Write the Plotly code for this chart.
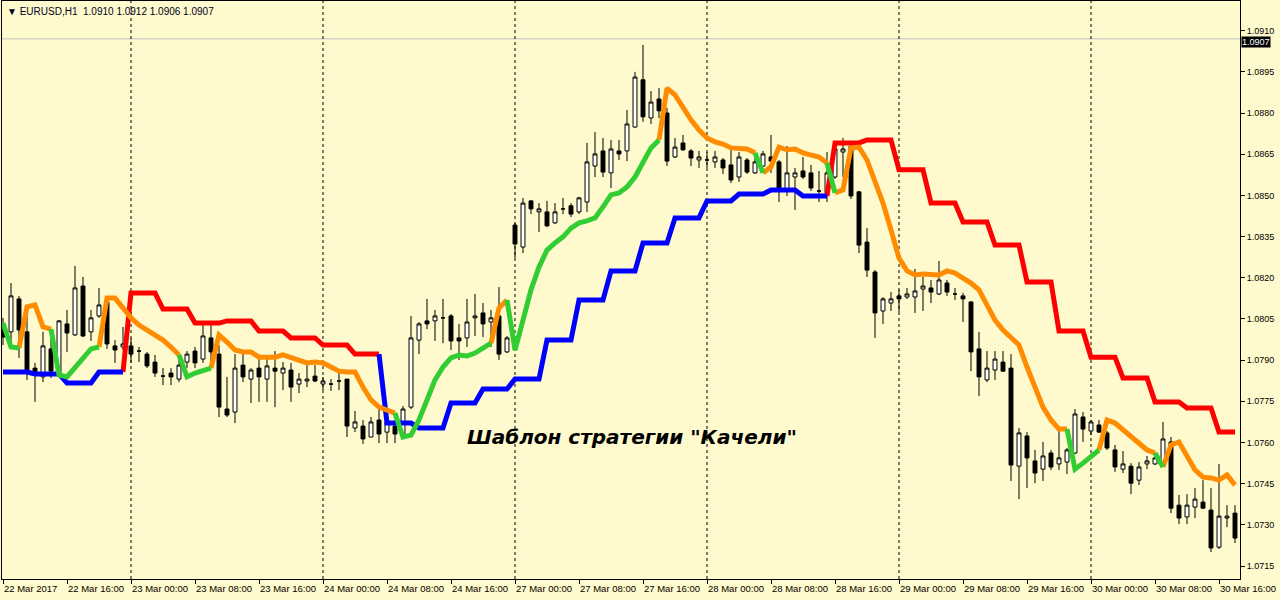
import pandas as pd
import plotly.graph_objects as go

# ---------------- data ----------------
bar_times = list(pd.date_range("2017-03-22 08:00", "2017-03-24 23:00", freq="h")) + \
            list(pd.date_range("2017-03-27 00:00", "2017-03-30 18:00", freq="h"))

open_ = [
    1.08017, 1.08003, 1.08123, 1.08003, 1.07871, 1.07839, 1.07941, 1.07853,
    1.08032, 1.07992, 1.08170, 1.08003, 1.08061, 1.08112, 1.07952, 1.07948,
    1.07952, 1.07933, 1.07922, 1.07893, 1.07842, 1.07853, 1.07831, 1.07893,
    1.07933, 1.07904, 1.07981, 1.07922, 1.07722, 1.07711, 1.07882, 1.07831,
    1.07871, 1.07831, 1.07871, 1.07853, 1.07864, 1.07813, 1.07824, 1.07842,
    1.07813, 1.07813, 1.07824, 1.07831, 1.07653, 1.07660, 1.07620, 1.07682,
    1.07638, 1.07660, 1.07624, 1.07729, 1.07973, 1.08043, 1.08043, 1.08054,
    1.08061, 1.07981, 1.07981, 1.08054, 1.08072, 1.08039, 1.08061, 1.07930,
    1.08392, 1.08312, 1.08480, 1.08440, 1.08440, 1.08400, 1.08451, 1.08462,
    1.08440, 1.08476, 1.08607, 1.08662, 1.08582, 1.08662, 1.08662, 1.08749,
    1.08921, 1.08782, 1.08851, 1.08800, 1.08640, 1.08691, 1.08662, 1.08629,
    1.08629, 1.08622, 1.08629, 1.08611, 1.08567, 1.08629, 1.08582, 1.08607,
    1.08640, 1.08622, 1.08516, 1.08567, 1.08589, 1.08582, 1.08516, 1.08509,
    1.08567, 1.08658, 1.08680, 1.08513, 1.08330, 1.08221, 1.08079, 1.08108,
    1.08134, 1.08130, 1.08130, 1.08159, 1.08163, 1.08141, 1.08181, 1.08141,
    1.08134, 1.08112, 1.07941, 1.07828, 1.07864, 1.07893, 1.07871, 1.07514,
    1.07624, 1.07533, 1.07503, 1.07562, 1.07522, 1.07529, 1.07562, 1.07693,
    1.07642, 1.07664, 1.07635, 1.07573, 1.07503, 1.07514, 1.07463, 1.07522,
    1.07522, 1.07529, 1.07602, 1.07372, 1.07329, 1.07365, 1.07383, 1.07354,
    1.07219, 1.07325, 1.07343,
]
high_ = [
    1.08054, 1.08181, 1.08134, 1.08101, 1.07890, 1.08003, 1.07981, 1.08046,
    1.08083, 1.08243, 1.08203, 1.08083, 1.08163, 1.08130, 1.07973, 1.08021,
    1.07981, 1.07948, 1.07930, 1.07919, 1.07871, 1.07871, 1.07911, 1.07933,
    1.07948, 1.08032, 1.08032, 1.07955, 1.07839, 1.07922, 1.07937, 1.07871,
    1.07904, 1.07911, 1.07933, 1.07893, 1.07890, 1.07853, 1.07893, 1.07882,
    1.07839, 1.07831, 1.07853, 1.07831, 1.07715, 1.07682, 1.07693, 1.07726,
    1.07718, 1.07682, 1.07733, 1.08061, 1.08039, 1.08123, 1.08083, 1.08123,
    1.08068, 1.08032, 1.08123, 1.08141, 1.08108, 1.08083, 1.08166, 1.07988,
    1.08400, 1.08491, 1.08483, 1.08472, 1.08480, 1.08472, 1.08491, 1.08472,
    1.08495, 1.08691, 1.08731, 1.08709, 1.08702, 1.08702, 1.08811, 1.08950,
    1.09048, 1.08880, 1.08891, 1.08819, 1.08709, 1.08720, 1.08669, 1.08662,
    1.08658, 1.08662, 1.08636, 1.08680, 1.08658, 1.08636, 1.08640, 1.08662,
    1.08720, 1.08629, 1.08680, 1.08600, 1.08640, 1.08611, 1.08589, 1.08658,
    1.08695, 1.08709, 1.08684, 1.08516, 1.08381, 1.08228, 1.08130, 1.08148,
    1.08156, 1.08163, 1.08232, 1.08203, 1.08192, 1.08261, 1.08192, 1.08163,
    1.08145, 1.08115, 1.08003, 1.07933, 1.07933, 1.07933, 1.07922, 1.07653,
    1.07638, 1.07573, 1.07602, 1.07573, 1.07649, 1.07580, 1.07722, 1.07711,
    1.07682, 1.07682, 1.07642, 1.07591, 1.07569, 1.07525, 1.07529, 1.07551,
    1.07562, 1.07675, 1.07620, 1.07409, 1.07412, 1.07434, 1.07463, 1.07434,
    1.07522, 1.07372, 1.07372,
]
low_ = [
    1.07955, 1.07948, 1.07908, 1.07828, 1.07748, 1.07820, 1.07835, 1.07839,
    1.07930, 1.07988, 1.07984, 1.07970, 1.08054, 1.07941, 1.07890, 1.07937,
    1.07890, 1.07893, 1.07871, 1.07839, 1.07809, 1.07809, 1.07820, 1.07871,
    1.07871, 1.07890, 1.07890, 1.07693, 1.07693, 1.07671, 1.07820, 1.07744,
    1.07748, 1.07748, 1.07729, 1.07791, 1.07748, 1.07780, 1.07802, 1.07820,
    1.07791, 1.07788, 1.07791, 1.07620, 1.07638, 1.07595, 1.07620, 1.07598,
    1.07598, 1.07598, 1.07620, 1.07722, 1.07922, 1.08013, 1.07970, 1.07962,
    1.07937, 1.07901, 1.07948, 1.07988, 1.07984, 1.07948, 1.07901, 1.07926,
    1.08272, 1.08290, 1.08432, 1.08367, 1.08385, 1.08396, 1.08432, 1.08421,
    1.08432, 1.08440, 1.08567, 1.08567, 1.08527, 1.08629, 1.08625, 1.08746,
    1.08768, 1.08760, 1.08782, 1.08607, 1.08636, 1.08662, 1.08607, 1.08600,
    1.08600, 1.08600, 1.08578, 1.08545, 1.08549, 1.08578, 1.08578, 1.08604,
    1.08582, 1.08476, 1.08498, 1.08447, 1.08560, 1.08516, 1.08476, 1.08476,
    1.08560, 1.08567, 1.08487, 1.08290, 1.08203, 1.07981, 1.08032, 1.08079,
    1.08075, 1.08123, 1.08072, 1.08079, 1.08108, 1.08137, 1.08134, 1.08119,
    1.08039, 1.07860, 1.07769, 1.07820, 1.07828, 1.07857, 1.07460, 1.07394,
    1.07434, 1.07452, 1.07460, 1.07500, 1.07500, 1.07485, 1.07558, 1.07602,
    1.07627, 1.07635, 1.07573, 1.07493, 1.07489, 1.07412, 1.07445, 1.07503,
    1.07518, 1.07511, 1.07343, 1.07303, 1.07303, 1.07325, 1.07358, 1.07201,
    1.07212, 1.07292, 1.07234,
]
close_ = [
    1.07984, 1.08134, 1.08010, 1.07860, 1.07853, 1.07952, 1.07860, 1.08043,
    1.07999, 1.08163, 1.07988, 1.08054, 1.08101, 1.07959, 1.07937, 1.07959,
    1.07922, 1.07933, 1.07879, 1.07853, 1.07842, 1.07839, 1.07882, 1.07922,
    1.07890, 1.07988, 1.07930, 1.07729, 1.07700, 1.07871, 1.07839, 1.07864,
    1.07839, 1.07879, 1.07860, 1.07871, 1.07802, 1.07831, 1.07831, 1.07824,
    1.07824, 1.07813, 1.07824, 1.07660, 1.07675, 1.07613, 1.07675, 1.07631,
    1.07675, 1.07631, 1.07722, 1.07981, 1.08032, 1.08032, 1.08061, 1.08054,
    1.07970, 1.07970, 1.08039, 1.08061, 1.08032, 1.08054, 1.07922, 1.07981,
    1.08323, 1.08472, 1.08451, 1.08451, 1.08389, 1.08440, 1.08451, 1.08432,
    1.08491, 1.08622, 1.08651, 1.08585, 1.08669, 1.08651, 1.08760, 1.08931,
    1.08786, 1.08840, 1.08808, 1.08625, 1.08676, 1.08666, 1.08636, 1.08640,
    1.08629, 1.08640, 1.08600, 1.08556, 1.08640, 1.08585, 1.08622, 1.08651,
    1.08625, 1.08527, 1.08582, 1.08582, 1.08567, 1.08527, 1.08516, 1.08582,
    1.08669, 1.08669, 1.08498, 1.08319, 1.08228, 1.08072, 1.08123, 1.08123,
    1.08123, 1.08141, 1.08152, 1.08170, 1.08148, 1.08192, 1.08148, 1.08141,
    1.08123, 1.07930, 1.07839, 1.07871, 1.07904, 1.07860, 1.07518, 1.07635,
    1.07544, 1.07489, 1.07551, 1.07511, 1.07544, 1.07573, 1.07704, 1.07649,
    1.07675, 1.07638, 1.07580, 1.07511, 1.07522, 1.07452, 1.07511, 1.07533,
    1.07544, 1.07613, 1.07361, 1.07325, 1.07372, 1.07394, 1.07361, 1.07216,
    1.07332, 1.07332, 1.07252,
]

# middle swing line (green = up phase, orange = down phase)
swing_mid = [
    1.08035, 1.07948, 1.07944, 1.08094, 1.08101, 1.08021, 1.08013, 1.07846,
    1.07839, 1.07875, 1.07911, 1.07941, 1.07948, 1.08126, 1.08126, 1.08090,
    1.08054, 1.08028, 1.08010, 1.07988, 1.07973, 1.07948, 1.07919, 1.07839,
    1.07853, 1.07860, 1.07871, 1.07992, 1.07966, 1.07937, 1.07930, 1.07930,
    1.07911, 1.07911, 1.07911, 1.07919, 1.07908, 1.07901, 1.07890, 1.07893,
    1.07890, 1.07875, 1.07860, 1.07857, 1.07857, 1.07802, 1.07755, 1.07729,
    1.07718, 1.07707, 1.07620, 1.07627, 1.07682, 1.07755, 1.07828, 1.07875,
    1.07908, 1.07919, 1.07915, 1.07926, 1.07944, 1.07962, 1.08090, 1.08119,
    1.07937, 1.08046, 1.08156, 1.08239, 1.08301, 1.08327, 1.08349, 1.08381,
    1.08400, 1.08407, 1.08418, 1.08458, 1.08502, 1.08509, 1.08531, 1.08567,
    1.08622, 1.08673, 1.08702, 1.08891, 1.08866, 1.08819, 1.08775, 1.08738,
    1.08709, 1.08695, 1.08687, 1.08673, 1.08673, 1.08669, 1.08655, 1.08582,
    1.08604, 1.08676, 1.08666, 1.08669, 1.08655, 1.08647, 1.08640, 1.08618,
    1.08509, 1.08520, 1.08673, 1.08676, 1.08629, 1.08556, 1.08472, 1.08374,
    1.08272, 1.08225, 1.08210, 1.08214, 1.08210, 1.08210, 1.08225, 1.08217,
    1.08199, 1.08181, 1.08156, 1.08101, 1.08046, 1.08010, 1.07984, 1.07955,
    1.07875, 1.07799, 1.07729, 1.07682, 1.07649, 1.07649, 1.07503, 1.07525,
    1.07547, 1.07573, 1.07682, 1.07671, 1.07646, 1.07620, 1.07598, 1.07573,
    1.07562, 1.07511, 1.07591, 1.07602, 1.07547, 1.07500, 1.07474, 1.07471,
    1.07463, 1.07482, 1.07445,
]
swing_mid_up_runs = [(0, 2), (7, 12), (23, 26), (50, 61), (64, 82), (95, 95),
                     (104, 104), (134, 137), (145, 145)]

# outer swing level (blue = support below price, red = resistance above price)
swing_band = [
    1.07857, 1.07857, 1.07857, 1.07857, 1.07850, 1.07850, 1.07850, 1.07850,
    1.07817, 1.07817, 1.07817, 1.07817, 1.07857, 1.07857, 1.07857, 1.07857,
    1.08145, 1.08145, 1.08145, 1.08145, 1.08086, 1.08086, 1.08086, 1.08086,
    1.08035, 1.08035, 1.08035, 1.08035, 1.08043, 1.08043, 1.08043, 1.08043,
    1.08006, 1.08006, 1.08006, 1.08006, 1.07981, 1.07981, 1.07981, 1.07981,
    1.07955, 1.07955, 1.07955, 1.07955, 1.07922, 1.07922, 1.07922, 1.07922,
    1.07671, 1.07671, 1.07671, 1.07671, 1.07653, 1.07653, 1.07653, 1.07653,
    1.07744, 1.07744, 1.07744, 1.07744, 1.07795, 1.07795, 1.07795, 1.07795,
    1.07831, 1.07831, 1.07831, 1.07831, 1.07973, 1.07973, 1.07973, 1.07973,
    1.08119, 1.08119, 1.08119, 1.08119, 1.08225, 1.08225, 1.08225, 1.08225,
    1.08327, 1.08327, 1.08327, 1.08327, 1.08418, 1.08418, 1.08418, 1.08418,
    1.08480, 1.08480, 1.08480, 1.08480, 1.08505, 1.08505, 1.08505, 1.08505,
    1.08520, 1.08520, 1.08520, 1.08520, 1.08498, 1.08498, 1.08498, 1.08498,
    1.08691, 1.08691, 1.08691, 1.08691, 1.08702, 1.08702, 1.08702, 1.08702,
    1.08593, 1.08593, 1.08593, 1.08593, 1.08472, 1.08472, 1.08472, 1.08472,
    1.08403, 1.08403, 1.08403, 1.08403, 1.08319, 1.08319, 1.08319, 1.08319,
    1.08185, 1.08185, 1.08185, 1.08185, 1.08006, 1.08006, 1.08006, 1.08006,
    1.07911, 1.07911, 1.07911, 1.07911, 1.07835, 1.07835, 1.07835, 1.07835,
    1.07748, 1.07748, 1.07748, 1.07748, 1.07726, 1.07726, 1.07726, 1.07726,
    1.07638, 1.07638, 1.07638,
]
swing_band_support_runs = [(0, 15), (48, 103)]

price_ticks = [1.0715, 1.0730, 1.0745, 1.0760, 1.0775, 1.0790, 1.0805,
               1.0820, 1.0835, 1.0850, 1.0865, 1.0880, 1.0895, 1.0910]
last_price = 1.0907
header_text = "▼ EURUSD,H1\u00a0\u00a01.0910 1.0912 1.0906 1.0907"
caption_text = 'Шаблон стратегии "Качели"'

# ---------------- styles ----------------
BG = "#FFFACD"
GREEN = "#32CD32"
ORANGE = "#FF8C00"
RED = "#FF0000"
BLUE = "#0000FF"
FONT = "Liberation Sans"

n = len(bar_times)
xi = list(range(n))


def run_colors(runs, on, off):
    cols = [off] * n
    for a, b in runs:
        for i in range(a, b + 1):
            cols[i] = on
    return cols


def pieces(values, cols, target):
    xs, ys = [], []
    last = None
    for i in range(1, n):
        if cols[i] != target:
            continue
        if last == i - 1:
            xs.append(i)
            ys.append(values[i])
        else:
            if xs:
                xs.append(None)
                ys.append(None)
            xs += [i - 1, i]
            ys += [values[i - 1], values[i]]
        last = i
    return xs, ys


mid_cols = run_colors(swing_mid_up_runs, GREEN, ORANGE)
band_cols = run_colors(swing_band_support_runs, BLUE, RED)

fig = go.Figure()
for vals, cols, palette in [(swing_band, band_cols, [RED, BLUE]),
                            (swing_mid, mid_cols, [ORANGE, GREEN])]:
    for c in palette:
        xs, ys = pieces(vals, cols, c)
        fig.add_trace(go.Scatter(x=xs, y=ys, mode="lines",
                                 line=dict(color=c, width=5),
                                 hoverinfo="skip", connectgaps=False))

fig.add_trace(go.Candlestick(
    x=xi, open=open_, high=high_, low=low_, close=close_,
    increasing=dict(line=dict(color="black", width=1), fillcolor="white"),
    decreasing=dict(line=dict(color="black", width=1), fillcolor="black"),
    whiskerwidth=0, hoverinfo="skip",
))

# x tick labels (left aligned to tick marks, like the terminal)
tick_idx = list(range(0, n, 8))
annotations = []
for k, i in enumerate(tick_idx):
    t = bar_times[i]
    lab = t.strftime("%d %b %Y") if k == 0 else t.strftime("%d %b %H:%M")
    annotations.append(dict(x=i, xref="x", y=0, yref="paper", text=lab,
                            xanchor="left", yanchor="top", yshift=-2, xshift=-1,
                            showarrow=False,
                            font=dict(family=FONT, size=9.5, color="black")))

annotations.append(dict(x=1, xref="paper", y=last_price, yref="y",
                        text=f"{last_price:.4f}", xanchor="left", yanchor="middle",
                        xshift=1, yshift=-3, showarrow=False, bgcolor="black",
                        borderpad=0,
                        font=dict(family=FONT, size=9, color="white")))
annotations.append(dict(x=0, xref="paper", y=1, yref="paper", text=header_text,
                        xanchor="left", yanchor="top", xshift=3, yshift=-3,
                        showarrow=False,
                        font=dict(family=FONT, size=10, color="#000020")))
annotations.append(dict(x=78.6, xref="x", y=1.0762, yref="y", text=caption_text,
                        xanchor="center", yanchor="middle", showarrow=False,
                        font=dict(family="DejaVu Sans", size=20, color="black",
                                  weight="bold", style="italic")))

shapes = [dict(type="line", xref="paper", x0=0, x1=1, yref="y",
               y0=last_price, y1=last_price, line=dict(color="#C0C0C0", width=1),
               layer="below")]
for i in range(1, n):
    if bar_times[i].hour == 0:
        shapes.append(dict(type="line", xref="x", x0=i, x1=i, yref="paper",
                           y0=0, y1=1, line=dict(color="black", width=1,
                                                 dash="3px,3px"),
                           layer="below"))

fig.update_layout(
    width=1280, height=600,
    margin=dict(l=2, r=40, t=1, b=21),
    paper_bgcolor=BG, plot_bgcolor=BG,
    showlegend=False,
    annotations=annotations, shapes=shapes,
    xaxis=dict(range=[-0.125, n - 0.375], tickvals=tick_idx, showticklabels=False,
               ticks="outside", ticklen=4, tickcolor="black",
               showline=True, linecolor="black", linewidth=1, mirror=True,
               showgrid=False, zeroline=False, rangeslider=dict(visible=False),
               fixedrange=True),
    yaxis=dict(side="right", range=[1.07103, 1.09208], tickvals=price_ticks,
               tickformat=".4f", ticks="outside", ticklen=4, tickcolor="black",
               showline=True, linecolor="black", linewidth=1, mirror=True,
               showgrid=False, zeroline=False,
               tickfont=dict(family=FONT, size=9, color="black"),
               fixedrange=True),
)

fig.write_html("out.html",
               config={"displayModeBar": False},
               post_script="document.body.style.margin='0';"
                           "document.body.style.overflow='hidden';")
